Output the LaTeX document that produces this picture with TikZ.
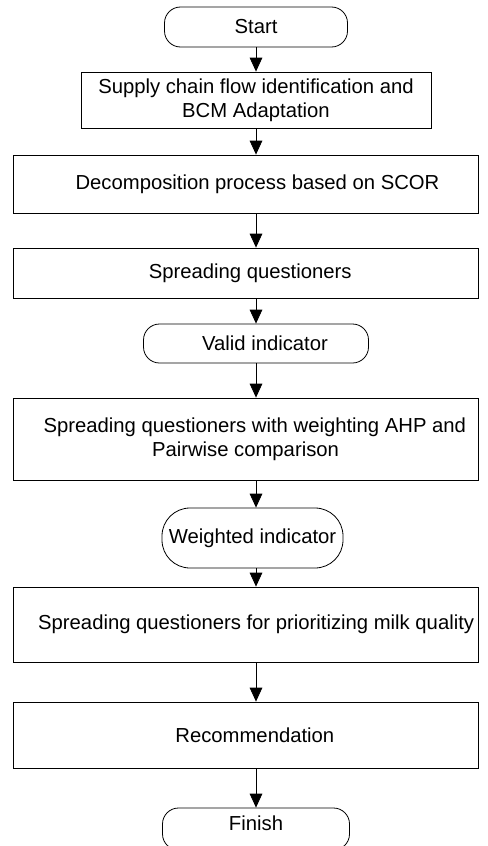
\documentclass[tikz,border=0pt]{standalone}
\usepackage{fontspec}
\setmainfont{Liberation Sans}
\usetikzlibrary{arrows.meta}

\tikzset{
    procbox/.style={draw, line width=0.6pt, inner sep=0pt, minimum width=348.75pt, align=center},
    termbox/.style={draw, line width=0.6pt, inner sep=0pt, rounded corners=12pt, align=center},
    flow/.style={line width=0.6pt, -{Triangle[width=9.5pt,length=10.5pt]}}
}

\begin{document}
\begin{tikzpicture}[x=0.75pt, y=-0.75pt, font=\fontsize{15.2}{18}\selectfont]
    \useasboundingbox (0,0) rectangle (488,846);
    \coordinate (axis) at (256,0);
    \node[termbox, minimum width=137.25pt, minimum height=30pt] (start) at (256,27) {Start};
    \node[procbox, minimum width=262.5pt, minimum height=42pt] (supply) at (256,100) {Supply chain flow identification and\\BCM Adaptation};
    \node[procbox, minimum height=43.5pt] (decomp) at (245.5,184) {\hspace*{18pt}Decomposition process based on SCOR};
    \node[procbox, minimum height=37.5pt] (spread) at (245.5,273) {\hspace*{7pt}Spreading questioners};
    \node[termbox, minimum width=168.75pt, minimum height=29.25pt] (valid) at (256,343.5) {\hspace*{13.5pt}Valid indicator};
    \node[procbox, minimum height=61.5pt] (ahp) at (245.5,439) {\hspace*{14pt}Spreading questioners with weighting AHP and\\Pairwise comparison};
    \node[termbox, rounded corners=21pt, minimum width=135.75pt, minimum height=45pt] (weighted) at (252.5,538) {Weighted indicator};
    \node[procbox, minimum height=56.25pt] (milk) at (245.5,624.5) {\hspace*{16pt}Spreading questioners for prioritizing milk quality};
    \node[procbox, minimum height=49.5pt] (recom) at (245.5,735) {\hspace*{14pt}Recommendation};
    \node[termbox, minimum width=140.25pt, minimum height=31.5pt, text depth=9pt] (finish) at (256,829) {Finish};
    % arrows along the middle line
    \foreach \a/\b in {start/supply, supply/decomp, decomp/spread, spread/valid, valid/ahp, ahp/weighted, weighted/milk, milk/recom, recom/finish}
        \draw[flow] (\a.south -| axis) -- (\b.north -| axis);
\end{tikzpicture}
\end{document}
